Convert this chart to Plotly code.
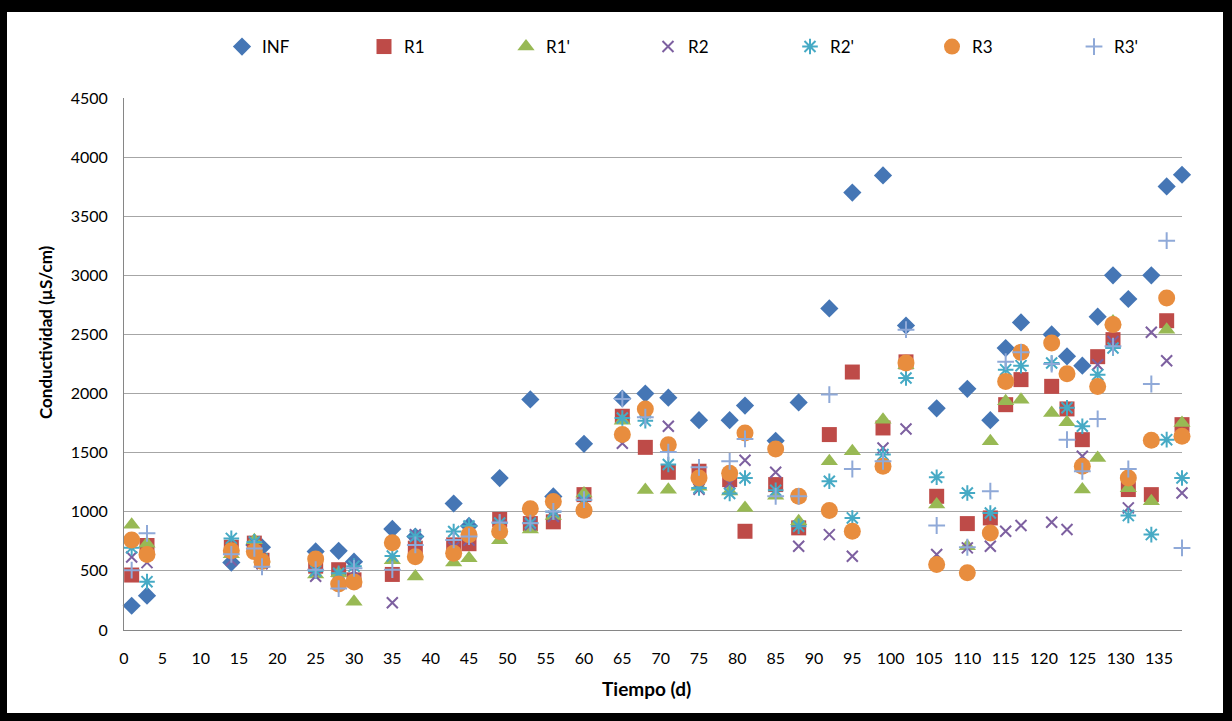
import plotly.graph_objects as go

days = [1, 3, 14, 17, 18, 25, 28, 30, 35, 38, 43, 45, 49, 53, 56, 60, 65, 68, 71, 75, 79,
        81, 85, 88, 92, 95, 99, 102, 106, 110, 113, 115, 117, 121, 123, 125, 127, 129,
        131, 134, 136, 138]

inf = [205, 290, 570, 720, 700, 665, 670, 578, 855, 790, 1070, 880, 1285, 1950, 1130, 1575,
       1958, 2000, 1965, 1775, 1775, 1898, 1600, 1925, 2720, 3700, 3845, 2575, 1875, 2040,
       1775, 2385, 2602, 2500, 2315, 2236, 2650, 3000, 2800, 3000, 3752, 3851]
r1 = [465, 715, 700, 735, 590, 540, 510, 424, 470, 692, 720, 730, 935, 900, 915, 1145,
      1808, 1545, 1334, 1343, 1272, 835, 1230, 864, 1653, 2182, 1709, 2268, 1131, 900,
      948, 1906, 2118, 2061, 1870, 1610, 2312, 2456, 1188, 1145, 2616, 1737]
r1p = [890, 730, 640, 760, 600, 470, 480, 240, 590, 452, 572, 607, 760, 850, 965, 1155,
       1770, 1185, 1187, 1212, 1172, 1033, 1135, 920, 1428, 1512, 1779, 2240, 1061, 709,
       1596, 1934, 1948, 1836, 1757, 1188, 1455, 2610, 1200, 1089, 2540, 1751]
r2 = [618, 570, 590, 740, 560, 455, 470, 500, 230, 805, 700, 760, 880, 890, 960, 1080,
      1580, 1840, 1723, 1190, 1240, 1436, 1334, 709, 807, 624, 1540, 1700, 638, 695,
      709, 836, 884, 912, 850, 1470, 2244, 2440, 1033, 2518, 2278, 1159]
r2p = [695, 409, 775, 745, 600, 500, 480, 540, 625, 790, 833, 880, 905, 905, 1000, 1100,
       1793, 1770, 1400, 1202, 1155, 1286, 1182, 878, 1258, 948, 1484, 2132, 1292, 1159,
       990, 2202, 2236, 2258, 1880, 1723, 2160, 2385, 968, 807, 1610, 1286]
r3 = [762, 638, 670, 663, 580, 600, 390, 407, 738, 620, 650, 805, 833, 1025, 1087, 1012,
      1653, 1870, 1566, 1286, 1326, 1667, 1531, 1131, 1010, 836, 1385, 2258, 554, 484,
      821, 2103, 2349, 2428, 2168, 1385, 2060, 2585, 1286, 1605, 2808, 1638]
r3p = [506, 818, 640, 690, 535, 510, 350, 522, 510, 720, 762, 790, 910, 904, 1003, 1102,
       1955, 1800, 1505, 1376, 1427, 1616, 1131, 1131, 1991, 1362, 1427, 2540, 884, 700,
       1174, 2270, 2349, 2250, 1610, 1343, 1785, 2400, 1362, 2081, 3293, 694]

names = ["INF", "R1", "R1'", "R2", "R2'", "R3", "R3'"]
series = [inf, r1, r1p, r2, r2p, r3, r3p]
x_ticks = list(range(0, 140, 5))
x_title = "Tiempo (d)"
y_title = "Conductividad (µS/cm)"

styles = [
    dict(symbol="diamond", size=14, color="#4576B5", line=dict(width=0)),
    dict(symbol="square", size=15, color="#BE4B48", line=dict(width=0)),
    dict(symbol="triangle-up", size=15, color="#98B954", line=dict(width=0)),
    dict(symbol="x-thin-open", size=11, color="#7D60A0", line=dict(width=2, color="#7D60A0")),
    dict(symbol="asterisk-open", size=13, color="#46AAC5", line=dict(width=2, color="#46AAC5")),
    dict(symbol="circle", size=17, color="#E88D3E", line=dict(width=0)),
    dict(symbol="cross-thin-open", size=12, color="#8FA9D8", line=dict(width=2, color="#8FA9D8")),
]

FONT = "Lato, Carlito, Calibri, sans-serif"

fig = go.Figure()
for name, vals, st in zip(names, series, styles):
    fig.add_trace(go.Scatter(x=days, y=vals, mode="markers", name=name,
                             marker=st, cliponaxis=False))

L, R, T, B = 124, 50, 98, 91
W, H = 1232, 721
pw, ph = W - L - R, H - T - B

def px2x(px):
    return (px - L) / pw

def py2y(py):
    return (H - B - py) / ph

fig.add_shape(type="rect", xref="paper", yref="paper", layer="below",
              x0=px2x(7), x1=px2x(1223), y0=py2y(713), y1=py2y(12),
              fillcolor="white", line=dict(width=0))

fig.add_annotation(xref="paper", yref="paper", x=px2x(646), y=py2y(688),
                   text="<b>" + x_title + "</b>", showarrow=False,
                   font=dict(size=19), xanchor="center", yanchor="middle")
fig.add_annotation(xref="paper", yref="paper", x=px2x(45), y=py2y(332),
                   text="<b>" + y_title + "</b>", showarrow=False, textangle=-90,
                   font=dict(size=17), xanchor="center", yanchor="middle")

fig.update_layout(
    width=W, height=H,
    margin=dict(l=L, r=R, t=T, b=B, autoexpand=False),
    paper_bgcolor="black",
    plot_bgcolor="rgba(0,0,0,0)",
    font=dict(family=FONT, size=15, color="#000000"),
    showlegend=True,
    legend=dict(orientation="h", x=px2x(222), xanchor="left", y=py2y(47), yanchor="middle",
                entrywidth=97, entrywidthmode="pixels", font=dict(size=17),
                bgcolor="rgba(0,0,0,0)", itemsizing="trace"),
    xaxis=dict(range=[0, 138], tickmode="array", tickvals=x_ticks, showgrid=False,
               showline=True, linecolor="#868686", linewidth=1, ticks="", zeroline=False,
               tickfont=dict(size=16), ticklabelstandoff=14, automargin=False),
    yaxis=dict(range=[0, 4500], dtick=500, tick0=0, showgrid=True, gridcolor="#A6A6A6",
               gridwidth=1, showline=True, linecolor="#868686", linewidth=1, ticks="",
               zeroline=False, tickfont=dict(size=16), ticklabelstandoff=12, automargin=False),
)

fig.write_html("out.html", config={"displayModeBar": False},
               post_script="document.body.style.margin='0';document.body.style.padding='0';")
